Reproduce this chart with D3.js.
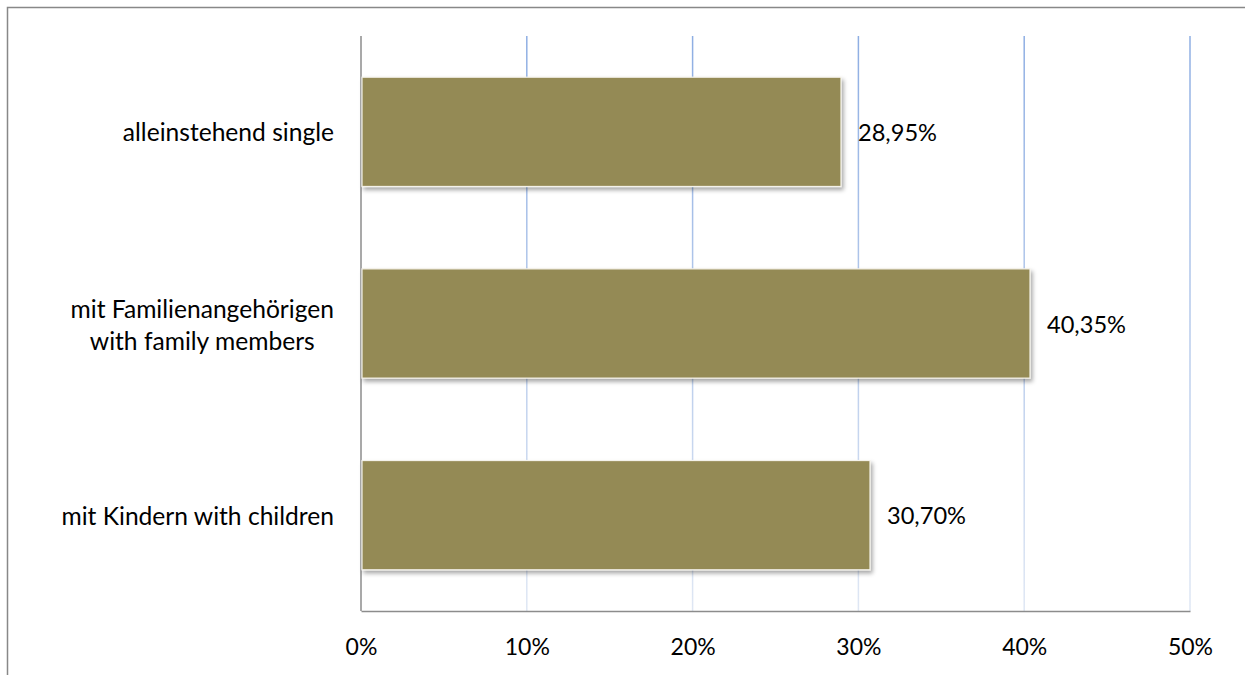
<!DOCTYPE html>
<html><head><meta charset="utf-8">
<script src="https://cdn.jsdelivr.net/npm/d3@7"></script>
<style>body{margin:0;background:#fff}svg{display:block}text{font-family:Lato,"Open Sans",sans-serif;fill:#000}</style>
</head><body><svg id="c" width="1245" height="675"></svg>
<script>
const categories = [["alleinstehend single"], ["mit Familienangehörigen", "with family members"], ["mit Kindern with children"]];
const values = [28.95, 40.35, 30.70];
const valueLabels = ["28,95%", "40,35%", "30,70%"];
const tickValues = [0, 10, 20, 30, 40, 50];
const tickLabels = ["0%", "10%", "20%", "30%", "40%", "50%"];

(function () {
const svg = d3.select("#c");
const pLeft = 361, pRight = 1190, pTop = 36, pBottom = 611;
const x = d3.scaleLinear().domain([0, 50]).range([pLeft, pRight]);
const y = d3.scaleBand().domain(d3.range(categories.length)).range([pTop, pBottom]).paddingInner(0.43).paddingOuter(0.215);

const defs = svg.append("defs");
const g = defs.append("linearGradient").attr("id", "gg").attr("gradientUnits", "userSpaceOnUse")
  .attr("x1", 0).attr("x2", 0).attr("y1", pTop).attr("y2", pBottom);
g.append("stop").attr("offset", 0).attr("stop-color", "#8eaee3");
g.append("stop").attr("offset", 1).attr("stop-color", "#dfe7f4");
const f = defs.append("filter").attr("id", "sh").attr("x", "-5%").attr("y", "-10%").attr("width", "115%").attr("height", "130%");
f.append("feDropShadow").attr("dx", 2).attr("dy", 3).attr("stdDeviation", 2).attr("flood-color", "#000").attr("flood-opacity", 0.35);

svg.append("path").attr("d", "M7.5,675 V7.5 H1245").attr("fill", "none").attr("stroke", "#888").attr("stroke-width", 1.5);

svg.append("g").selectAll("line").data(tickValues.slice(1)).join("line")
  .attr("x1", d => x(d)).attr("x2", d => x(d)).attr("y1", pTop).attr("y2", pBottom)
  .attr("stroke", "url(#gg)").attr("stroke-width", 1.5);

const xAxis = d3.axisBottom(x).tickValues(tickValues).tickFormat((d, i) => tickLabels[i]).tickSize(0).tickPadding(28);
const ax = svg.append("g").attr("transform", `translate(0,${pBottom})`).call(xAxis);
ax.select(".domain").attr("stroke", "#8c8c8c").attr("stroke-width", 1.5);
ax.selectAll("text").attr("font-size", 23).attr("font-family", "Lato, 'Open Sans', sans-serif");
svg.append("line").attr("x1", pLeft).attr("x2", pLeft).attr("y1", pTop).attr("y2", pBottom)
  .attr("stroke", "#8c8c8c").attr("stroke-width", 1.5);

svg.append("g").selectAll("rect").data(values).join("rect")
  .attr("x", x(0) + 1).attr("y", (d, i) => y(i)).attr("width", d => x(d) - x(0) - 1).attr("height", y.bandwidth())
  .attr("fill", "#948a54").attr("stroke", "#f4f2ea").attr("stroke-width", 1.2).attr("filter", "url(#sh)");

svg.append("g").selectAll("text").data(values).join("text")
  .attr("x", d => x(d) + 17).attr("y", (d, i) => y(i) + y.bandwidth() / 2 + 1).attr("dy", "0.35em")
  .attr("font-size", 23.6).text((d, i) => valueLabels[i]);

const labelRight = 334;
const cl = svg.append("g").selectAll("text").data(categories).join("text")
  .attr("font-size", 24.6)
  .attr("y", (d, i) => y(i) + y.bandwidth() / 2 + 1);
cl.each(function(lines) {
  const t = d3.select(this);
  const n = lines.length;
  const spans = lines.map((ln, k) => t.append("tspan")
    .attr("dy", k === 0 ? `${0.35 - (n - 1) * 0.62}em` : "1.3em").text(ln));
  const w = d3.max(spans, s => s.node().getComputedTextLength());
  t.attr("text-anchor", "middle");
  spans.forEach(s => s.attr("x", labelRight - w / 2));
});
})();
</script></body></html>
